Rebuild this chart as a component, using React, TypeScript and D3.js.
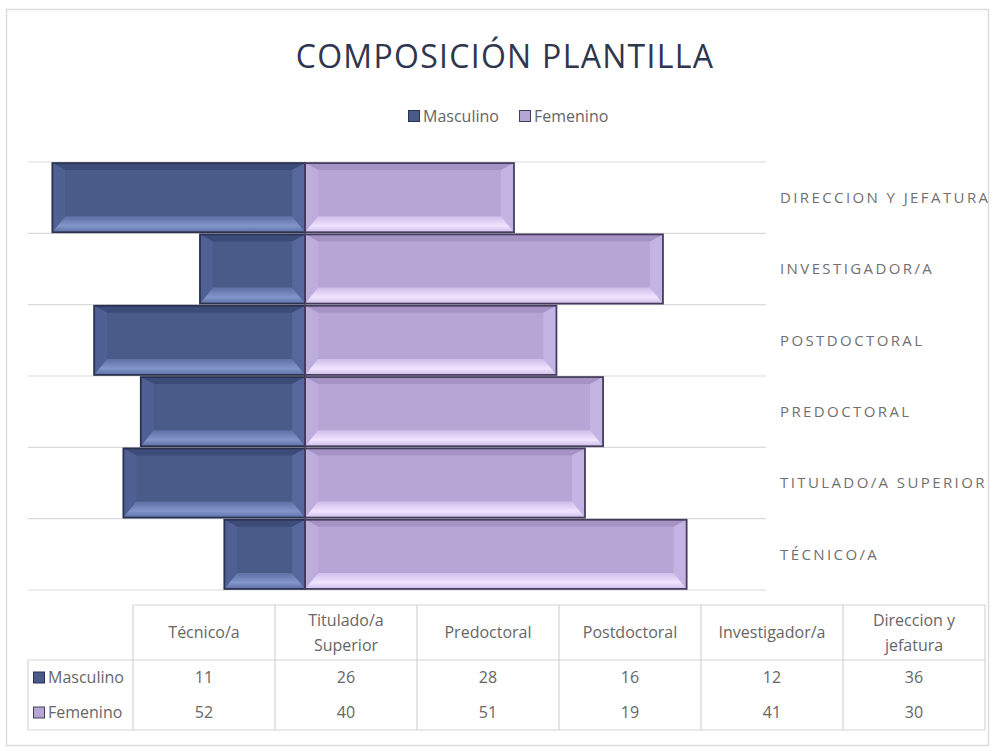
import React from "react";
import * as d3 from "d3";

const categories = [
  "DIRECCION Y JEFATURA",
  "INVESTIGADOR/A",
  "POSTDOCTORAL",
  "PREDOCTORAL",
  "TITULADO/A SUPERIOR",
  "TÉCNICO/A",
];
const masculinoBars = [36.3, 15.1, 30.3, 23.6, 26.1, 11.6];
const femeninoBars = [30.0, 51.4, 36.1, 42.8, 40.2, 54.8];

const seriesNames = ["Masculino", "Femenino"];

const tableHeaders = [
  ["Técnico/a"],
  ["Titulado/a", "Superior"],
  ["Predoctoral"],
  ["Postdoctoral"],
  ["Investigador/a"],
  ["Direccion y", "jefatura"],
];
const tableMasculino = [11, 26, 28, 16, 12, 36];
const tableFemenino = [52, 40, 51, 19, 41, 30];

const W = 994;
const H = 751;

type Pal = { main: string; top: string; botA: string; botB: string; left: string; right: string; stroke: string };
const malePal: Pal = {
  main: "#4a5a89",
  top: "#3d4b78",
  botA: "#5d70a4",
  botB: "#8296cc",
  left: "#4f6094",
  right: "#55679c",
  stroke: "#2b3150",
};
const femalePal: Pal = {
  main: "#b6a6d6",
  top: "#a593c5",
  botA: "#cdbdea",
  botB: "#f1e4ff",
  left: "#bdaddd",
  right: "#c4b4e4",
  stroke: "#463d5e",
};

function BevelBar({ x0, x1, y0, y1, pal, id }: { x0: number; x1: number; y0: number; y1: number; pal: Pal; id: string }) {
  const w = x1 - x0;
  const bx = Math.min(13, w / 2);
  const bt = 7;
  const bb = 16;
  const pts = (a: number[][]) => a.map((p) => p.join(",")).join(" ");
  return (
    <g>
      <defs>
        <linearGradient id={id} x1="0" y1="0" x2="0" y2="1">
          <stop offset="0" stopColor={pal.botA} />
          <stop offset="0.6" stopColor={pal.botB} />
          <stop offset="1" stopColor={pal.botA} />
        </linearGradient>
      </defs>
      <rect x={x0} y={y0} width={w} height={y1 - y0} fill={pal.main} />
      <polygon points={pts([[x0, y0], [x1, y0], [x1 - bx, y0 + bt], [x0 + bx, y0 + bt]])} fill={pal.top} />
      <polygon points={pts([[x0, y0], [x0 + bx, y0 + bt], [x0 + bx, y1 - bb], [x0, y1]])} fill={pal.left} />
      <polygon points={pts([[x1, y0], [x1 - bx, y0 + bt], [x1 - bx, y1 - bb], [x1, y1]])} fill={pal.right} />
      <polygon points={pts([[x0, y1], [x1, y1], [x1 - bx, y1 - bb], [x0 + bx, y1 - bb]])} fill={`url(#${id})`} />
      <rect x={x0} y={y0} width={w} height={y1 - y0} fill="none" stroke={pal.stroke} strokeWidth={1.8} />
    </g>
  );
}

export default function App() {
  const x = d3.scaleLinear().domain([-39.8, 66.2]).range([28, 766]);
  const y = d3.scaleBand<string>().domain(categories).range([162, 590]).paddingInner(0.03).paddingOuter(0.015);
  const bandStep = y.step();
  const gridYs = d3.range(categories.length + 1).map((i) => 162 + i * bandStep);

  const col = d3.scaleBand<number>().domain(d3.range(tableHeaders.length)).range([133, 985]);
  const tTop = 605, tHead = 660, tBot = 730;
  const rowY = [677.5, 712.5];
  const gray = "#666666";
  const font = "'Open Sans', 'DejaVu Sans', sans-serif";

  return (
    <svg width={W} height={H} style={{ position: "absolute", left: 0, top: 0, background: "#fff" }} fontFamily={font}>
      <rect x={6.5} y={9.5} width={982} height={736} fill="#fff" stroke="#dcdcdc" strokeWidth={1.5} />

      <text x={505} y={68} textAnchor="middle" fontSize={32} fill="#2f3650" letterSpacing={1.3}>
        COMPOSICIÓN PLANTILLA
      </text>

      {/* legend */}
      <g fontSize={16} fill={gray}>
        <rect x={408.5} y={110.5} width={11} height={11} fill={malePal.main} stroke={malePal.stroke} />
        <text x={423} y={116} dy="0.36em">Masculino</text>
        <rect x={519.5} y={110.5} width={11} height={11} fill={femalePal.main} stroke={femalePal.stroke} />
        <text x={534} y={116} dy="0.36em">Femenino</text>
      </g>

      {/* grid */}
      {gridYs.map((gy, i) => (
        <line key={i} x1={28} x2={766} y1={gy} y2={gy} stroke="#d9d9d9" strokeWidth={1.2} />
      ))}

      {/* bars */}
      {categories.map((c, i) => {
        const y0 = y(c)!;
        const y1 = y0 + y.bandwidth();
        return (
          <g key={c}>
            <BevelBar x0={x(-masculinoBars[i])} x1={x(0)} y0={y0} y1={y1} pal={malePal} id={`gm${i}`} />
            <BevelBar x0={x(0)} x1={x(femeninoBars[i])} y0={y0} y1={y1} pal={femalePal} id={`gf${i}`} />
          </g>
        );
      })}

      {/* category labels */}
      {categories.map((c) => (
        <text key={c} x={780} y={y(c)! + y.bandwidth() / 2} dy="0.36em" fontSize={15} fill="#707070" letterSpacing={2.4}>
          {c}
        </text>
      ))}

      {/* data table */}
      <g stroke="#d4d4d4" strokeWidth={1.2}>
        <line x1={133} x2={985} y1={tTop} y2={tTop} />
        <line x1={28} x2={985} y1={tHead} y2={tHead} />
        <line x1={28} x2={985} y1={tBot} y2={tBot} />
        <line x1={28} x2={28} y1={tHead} y2={tBot} />
        {d3.range(tableHeaders.length + 1).map((i) => {
          const xx = i < tableHeaders.length ? col(i)! : col(tableHeaders.length - 1)! + col.bandwidth();
          return <line key={i} x1={xx} x2={xx} y1={tTop} y2={tBot} />;
        })}
      </g>
      <g fontSize={16} fill={gray} textAnchor="middle">
        {tableHeaders.map((lines, i) => {
          const cx = col(i)! + col.bandwidth() / 2;
          const lh = 25;
          const start = (tTop + tHead) / 2 - ((lines.length - 1) * lh) / 2;
          return (
            <text key={i} x={cx}>
              {lines.map((l, j) => (
                <tspan key={j} x={cx} y={start + j * lh} dy="0.36em">
                  {l}
                </tspan>
              ))}
            </text>
          );
        })}
        {tableMasculino.map((v, i) => (
          <text key={"m" + i} x={col(i)! + col.bandwidth() / 2} y={rowY[0]} dy="0.36em">
            {v}
          </text>
        ))}
        {tableFemenino.map((v, i) => (
          <text key={"f" + i} x={col(i)! + col.bandwidth() / 2} y={rowY[1]} dy="0.36em">
            {v}
          </text>
        ))}
      </g>
      <g fontSize={16} fill={gray}>
        {seriesNames.map((s, i) => {
          const pal = i === 0 ? malePal : femalePal;
          return (
            <g key={s}>
              <rect x={33.5} y={rowY[i] - 5.5} width={11} height={11} fill={pal.main} stroke={pal.stroke} />
              <text x={48} y={rowY[i]} dy="0.36em">
                {s}
              </text>
            </g>
          );
        })}
      </g>
    </svg>
  );
}
